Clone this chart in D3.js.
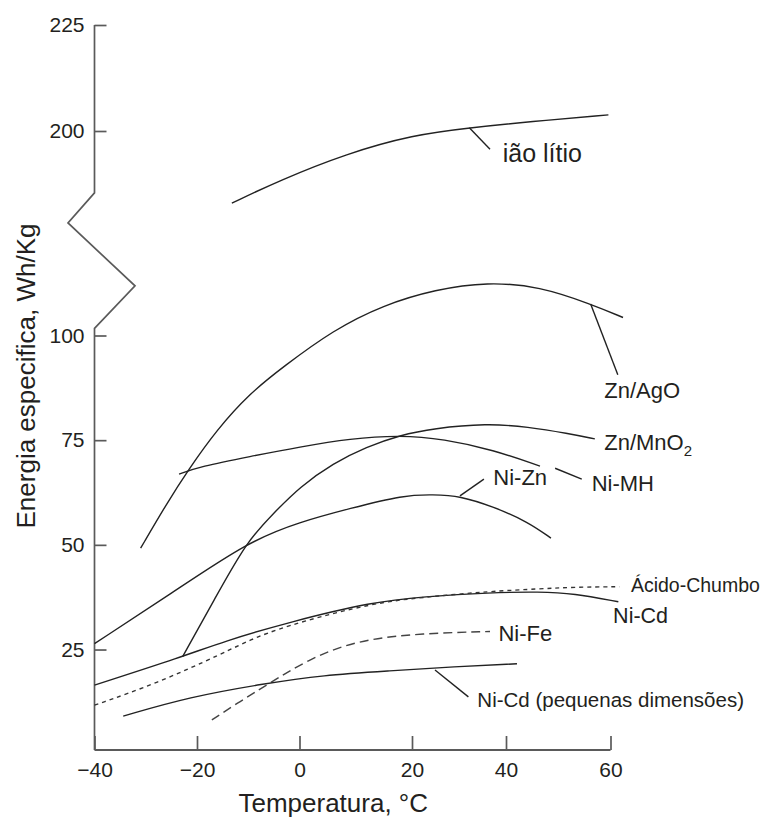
<!DOCTYPE html>
<html><head><meta charset="utf-8">
<script src="https://cdn.jsdelivr.net/npm/d3@7"></script>
<style>
body{margin:0;background:#fff}
text{font-family:"Liberation Sans",Arial,sans-serif;fill:#231f20}
</style></head><body>
<svg id="c" width="770" height="819"></svg>
<script>
// ---- data (temperature °C, energy Wh/kg) ----
const xTicks = [-40, -20, 0, 20, 40, 60];
const yTicksLow = [25, 50, 75, 100];
const yTicksHigh = [200, 225];

const liIon = [[-13.2,183.0],[-3.8,188.4],[8.4,194.7],[20.3,199.1],[32.2,200.75],[44.6,202.2],[59.6,203.8]];
const znAgO = [[-31.0,49.2],[-25.9,59.9],[-21.7,67.9],[-16.2,77.4],[-9.7,86.2],[-3.2,92.5],[6.0,101.3],[14.9,107.3],[25.0,111.0],[36.0,112.8],[46.5,111.7],[56.2,107.5],[62.4,104.3]];
const znMnO2 = [[-22.8,23.3],[-16.5,37.2],[-10.3,50.8],[-5.1,57.5],[0.1,63.9],[6.0,69.5],[11.9,73.4],[17.9,76.2],[24.5,77.8],[35.9,79.0],[44.2,78.2],[51.9,76.6],[57.0,75.3]];
const niMH = [[-23.5,66.9],[-19.4,68.7],[-9.7,71.1],[0.1,73.4],[9.0,75.4],[17.9,76.2],[26.7,75.3],[37.3,72.7],[46.5,68.8]];
const niZn = [[-40,26.4],[-25,38.4],[-10.0,50.8],[0.1,55.5],[9.0,58.7],[18.5,61.9],[24.5,62.0],[30.2,61.7],[37.3,59.1],[44.2,55.5],[48.6,51.6]];
const niCd = [[-40,16.5],[-22.8,23.3],[-14.9,26.9],[-1.9,31.6],[13.1,36.4],[22.4,37.6],[36.6,38.6],[46.5,38.8],[52.9,38.4],[61.5,36.4]];
const leadAcid = [[-40,11.7],[-27.9,16.9],[-14.9,24.1],[-8.4,28.1],[0.1,31.6],[13.1,36.1],[22.4,37.5],[36.6,38.9],[46.5,39.5],[52.9,39.9],[61.7,40.0]];
const niFe = [[-17.1,8.2],[-11.6,12.6],[-6.4,16.5],[1.3,22.5],[10.2,27.3],[22.4,28.9],[36.6,29.3]];
const niCdSmall = [[-34.4,9.1],[-21.4,13.7],[-7.1,16.8],[4.2,18.9],[16.1,19.9],[29.0,20.9],[42.1,21.6]];

// label texts and anchor points (data units)
const labelText = ["ião lítio","Zn/AgO","Zn/MnO","Ni-MH","Ni-Zn","Ácido-Chumbo","Ni-Cd","Ni-Fe","Ni-Cd (pequenas dimensões)"];
const labelAt = [[39.3,192.8],[58.8,85.0],[58.8,72.7],[56.4,62.9],[37.3,64.3],[63.9,38.7],[60.5,31.3],[38.4,27.0],[33.9,11.3]];
const labelAxis = ["high","low","low","low","low","low","low","low","low"];
const leaders = [
  {axis:"high", p:[[32.2,200.75],[36.6,195.7]]},
  {axis:"low", p:[[56.2,107.5],[61.4,90.6]]},
  {axis:"low", p:[[49.4,68.3],[54.5,65.7]]},
  {axis:"low", p:[[30.2,61.7],[35.3,65.7]]},
  {axis:"low", p:[[24.9,20.1],[32.0,13.7]]}
];

// ---- drawing ----
const svg = d3.select("#c");
const x = d3.scaleLinear().domain(xTicks).range([94.5,197,299.5,412,506,610.5]);
const yLow = d3.scaleLinear().domain([0,100]).range([754.2,335.5]);
const yHigh = d3.scaleLinear().domain([200,225]).range([131,25]);
const ys = a => a === "high" ? yHigh : yLow;
const axisColor = "#5a5a5a";
const x0 = x(-40), xAxisY = yLow(1);

// y axis with break
const bTop = yHigh(185.4), bBot = yLow(101.7);
svg.append("path")
  .attr("d", `M${x0},${yHigh(225)}V${bTop}L${x0-26.5},${bTop+30}L${x0+40.5},${bTop+93}L${x0},${bBot}V${xAxisY}`)
  .attr("fill","none").attr("stroke",axisColor).attr("stroke-width",1.7);

function styleAxis(g){
  g.select(".domain").remove();
  g.selectAll(".tick line").attr("stroke",axisColor).attr("stroke-width",1.7);
  g.selectAll(".tick text").attr("font-size",21).attr("fill","#231f20")
   .attr("font-family","'Liberation Sans',Arial,sans-serif");
}
svg.append("g").attr("transform",`translate(${x0},0)`)
  .call(d3.axisLeft(yLow).tickValues(yTicksLow).tickSize(-12).tickPadding(10)).call(styleAxis);
svg.append("g").attr("transform",`translate(${x0},0)`)
  .call(d3.axisLeft(yHigh).tickValues(yTicksHigh).tickSize(-12).tickPadding(10)).call(styleAxis);
svg.append("g").attr("transform",`translate(0,${xAxisY})`)
  .call(d3.axisBottom(x).tickValues(xTicks).tickSize(-14).tickPadding(12)).call(styleAxis);
svg.append("line").attr("x1",x0).attr("x2",x(60)).attr("y1",xAxisY).attr("y2",xAxisY)
  .attr("stroke",axisColor).attr("stroke-width",1.8);

// axis titles
svg.append("text").attr("x",x(6)).attr("y",812).attr("text-anchor","middle")
  .attr("font-size",26).text("Temperatura, °C");
svg.append("text").attr("transform","translate(35,376) rotate(-90)").attr("text-anchor","middle")
  .attr("font-size",26).text("Energia especifica, Wh/Kg");

// curves
const series = [
  {d: liIon, axis:"high", dash:null, color:"#222"},
  {d: znAgO, axis:"low", dash:null, color:"#222"},
  {d: znMnO2, axis:"low", dash:null, color:"#222"},
  {d: niMH, axis:"low", dash:null, color:"#222"},
  {d: niZn, axis:"low", dash:null, color:"#222"},
  {d: niCd, axis:"low", dash:null, color:"#222"},
  {d: leadAcid, axis:"low", dash:"4,4", color:"#333"},
  {d: niFe, axis:"low", dash:"9,5", color:"#444"},
  {d: niCdSmall, axis:"low", dash:null, color:"#222"}
];
series.forEach(s => {
  const yy = ys(s.axis);
  const line = d3.line().x(d => x(d[0])).y(d => yy(d[1])).curve(d3.curveBasis);
  svg.append("path").attr("d", line(s.d)).attr("fill","none")
    .attr("stroke", s.color).attr("stroke-width",1.4)
    .attr("stroke-dasharray", s.dash);
});

// leaders
leaders.forEach(l => {
  const yy = ys(l.axis);
  svg.append("path").attr("d", d3.line().x(d=>x(d[0])).y(d=>yy(d[1]))(l.p))
    .attr("stroke","#222").attr("stroke-width",1.4).attr("fill","none");
});

// labels
const labelSize = [25,22,22,22,22,19.5,21.5,22,20.5];
labelText.forEach((t,i) => {
  const yy = ys(labelAxis[i]);
  const tx = svg.append("text").attr("x", x(labelAt[i][0])).attr("y", yy(labelAt[i][1]))
    .attr("font-size", labelSize[i]).text(t);
  if (t === "Zn/MnO") tx.append("tspan").attr("dy",6).attr("font-size",15).text("2");
});
</script>
</body></html>
